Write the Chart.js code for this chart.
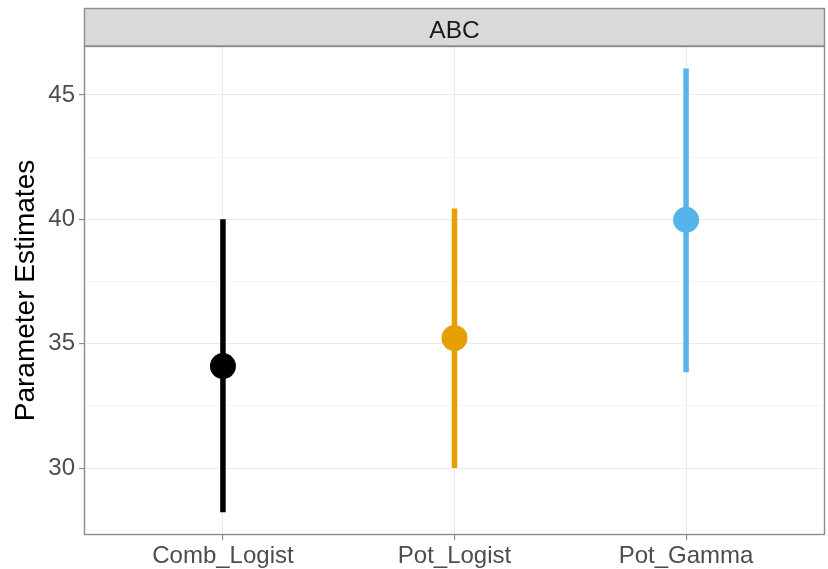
<!DOCTYPE html>
<html>
<head>
<meta charset="utf-8">
<script src="https://cdn.jsdelivr.net/npm/chart.js@4/dist/chart.umd.min.js"></script>
<style>
html,body{margin:0;padding:0;background:#fff;}
#wrap{width:828px;height:569px;position:relative;}
</style>
</head>
<body>
<div id="wrap"><canvas id="c" width="828" height="569"></canvas></div>
<script>
// ---- data ----
const categories = ["Comb_Logist", "Pot_Logist", "Pot_Gamma"];
const estimates  = [34.10, 35.23, 39.98];
const lowerBounds = [28.22, 30.00, 33.85];
const upperBounds = [40.00, 40.44, 46.07];
const colors = ["#000000", "#E69F00", "#56B4E9"];
const yMajorTicks = [30, 35, 40, 45];
const yMinorTicks = [27.5, 32.5, 37.5, 42.5];
const stripLabel = "ABC";
const yTitle = "Parameter Estimates";

const FONT = "'Liberation Sans', Arial, Helvetica, sans-serif";
const BORDER = '#8C8C8C';

const datasets = [];
datasets.push({
  type: 'scatter',
  data: categories.map((c, i) => ({x: i + 1, y: estimates[i]})),
  pointRadius: 13,
  pointHoverRadius: 13,
  pointBackgroundColor: colors,
  pointBorderColor: colors,
  pointBorderWidth: 0,
  order: 0
});
categories.forEach((c, i) => {
  datasets.push({
    type: 'line',
    data: [{x: i + 1, y: lowerBounds[i]}, {x: i + 1, y: upperBounds[i]}],
    borderColor: colors[i],
    borderWidth: 5.5,
    borderCapStyle: 'butt',
    pointRadius: 0,
    showLine: true,
    fill: false,
    order: 1
  });
});

const panelPlugin = {
  id: 'panel',
  beforeDraw(chart) {
    const {ctx, chartArea: a} = chart;
    ctx.save();
    ctx.fillStyle = '#ffffff';
    ctx.fillRect(0, 0, chart.width, chart.height);
    // strip
    const top = 8;
    ctx.fillStyle = '#D9D9D9';
    ctx.fillRect(a.left, top, a.right - a.left, a.top - top);
    ctx.strokeStyle = BORDER;
    ctx.lineWidth = 1.4;
    ctx.strokeRect(a.left + 0.5, top + 0.5, a.right - a.left - 1, a.top - top - 0.5);
    ctx.fillStyle = '#1A1A1A';
    ctx.font = '24.5px ' + FONT;
    ctx.textAlign = 'center';
    ctx.textBaseline = 'alphabetic';
    ctx.fillText(stripLabel, (a.left + a.right) / 2, 37.5);
    ctx.restore();
  },
  afterDraw(chart) {
    const {ctx, chartArea: a} = chart;
    ctx.save();
    ctx.strokeStyle = BORDER;
    ctx.lineWidth = 1.4;
    ctx.strokeRect(a.left + 0.5, a.top + 0.5, a.right - a.left - 1, a.bottom - a.top - 1);
    ctx.restore();
  }
};

const isMinor = v => yMinorTicks.includes(v);

new Chart(document.getElementById('c'), {
  type: 'scatter',
  data: {datasets},
  plugins: [panelPlugin],
  options: {
    responsive: false,
    animation: false,
    devicePixelRatio: 1,
    layout: {autoPadding: false, padding: {top: 46, right: 3, left: 0, bottom: 0}},
    plugins: {legend: {display: false}, tooltip: {enabled: false}},
    scales: {
      x: {
        type: 'linear',
        min: 0.4,
        max: 3.6,
        afterBuildTicks(axis) { axis.ticks = categories.map((c, i) => ({value: i + 1})); },
        afterFit(axis) { axis.height = 34; axis.paddingLeft = 0; axis.paddingRight = 0; },
        ticks: {
          callback: v => categories[v - 1] || '',
          color: '#4D4D4D',
          font: {size: 24, family: FONT},
          padding: 2,
          maxRotation: 0,
          autoSkip: false
        },
        grid: {
          color: '#EBEBEB',
          lineWidth: 1.1,
          tickColor: BORDER,
          tickLength: 5,
          tickWidth: 1.2
        },
        border: {display: false}
      },
      y: {
        type: 'linear',
        min: 27.31,
        max: 46.97,
        afterBuildTicks(axis) {
          axis.ticks = yMinorTicks.concat(yMajorTicks).sort((a, b) => a - b).map(v => ({value: v}));
        },
        afterFit(axis) { axis.width = 84; axis.paddingTop = 0; axis.paddingBottom = 0; },
        ticks: {
          callback: v => isMinor(v) ? '' : String(v),
          color: '#4D4D4D',
          font: {size: 24, family: FONT},
          padding: 4,
          autoSkip: false
        },
        grid: {
          color: ctx => (ctx.tick && isMinor(ctx.tick.value)) ? '#F2F2F2' : '#EBEBEB',
          lineWidth: ctx => (ctx.tick && isMinor(ctx.tick.value)) ? 0.8 : 1.1,
          tickColor: ctx => (ctx.tick && isMinor(ctx.tick.value)) ? 'rgba(0,0,0,0)' : BORDER,
          tickLength: 5,
          tickWidth: 1.2
        },
        border: {display: false},
        title: {
          display: true,
          text: yTitle,
          color: '#000000',
          font: {size: 28, family: FONT},
          padding: {top: 9, bottom: 0}
        }
      }
    }
  }
});
</script>
</body>
</html>
